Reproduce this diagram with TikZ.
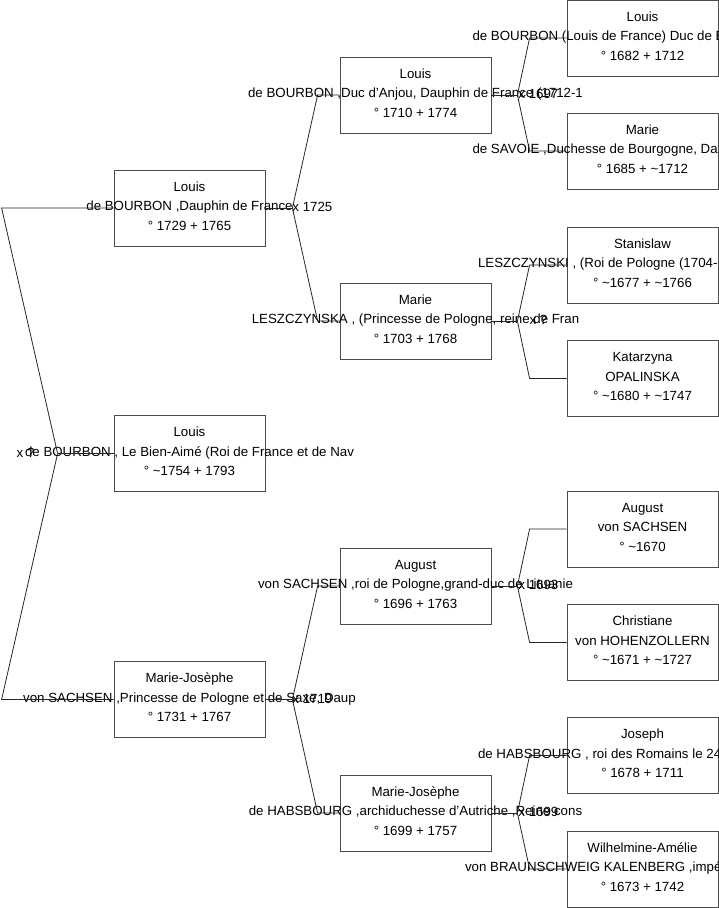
\documentclass[tikz,border=0pt]{standalone}
\usepackage{fontspec}
\setmainfont{Liberation Sans}
\begin{document}
\begin{tikzpicture}[x=1pt, y=-1pt,
  person/.style={draw=black!70, line width=0.8pt, minimum width=151pt, minimum height=76pt,
    inner sep=0pt, align=center, font=\fontsize{13.3}{19.5}\selectfont,
    execute at begin node=\rule{0pt}{11pt}, execute at end node=\rule[-4pt]{0pt}{4pt}},
  link/.style={draw=black!85, line width=0.8pt},
  wedding/.style={inner sep=0pt, font=\fontsize{13.3}{15}\selectfont}]

\useasboundingbox (0,0) rectangle (719,908);
\clip (0,0) rectangle (719,908);

% Generation 1
\node[person] (root) at (189.5,453.5) {Louis\\\makebox[0pt]{de BOURBON , Le Bien-Aimé (Roi de France et de Nav}\\° \textasciitilde1754 + 1793};

% Generation 2
\node[person] (dauphin) at (189.5,208) {Louis\\\makebox[0pt]{de BOURBON ,Dauphin de France}\\° 1729 + 1765};
\node[person] (mjsaxe) at (189.5,699.5) {Marie-Josèphe\\\makebox[0pt]{von SACHSEN ,Princesse de Pologne et de Saxe, Daup}\\° 1731 + 1767};

% Generation 3
\node[person] (louisXV) at (415.5,95) {Louis\\\makebox[0pt]{de BOURBON ,Duc d'Anjou, Dauphin de France (1712-1}\\° 1710 + 1774};
\node[person] (leszczynska) at (415.5,321) {Marie\\\makebox[0pt]{LESZCZYNSKA , (Princesse de Pologne, reine de Fran}\\° 1703 + 1768};
\node[person] (august3) at (415.5,586) {August\\\makebox[0pt]{von SACHSEN ,roi de Pologne,grand-duc de Lituanie}\\° 1696 + 1763};
\node[person] (mjhabsbourg) at (415.5,813) {Marie-Josèphe\\\makebox[0pt]{de HABSBOURG ,archiduchesse d'Autriche ,Reine cons}\\° 1699 + 1757};

% Generation 4
\node[person] (bourgogne) at (642.5,38) {Louis\\\makebox[0pt]{\makebox[340pt][l]{de BOURBON (Louis de France) Duc de B}}\\° 1682 + 1712};
\node[person] (savoie) at (642.5,151) {Marie\\\makebox[0pt]{\makebox[340pt][l]{de SAVOIE ,Duchesse de Bourgogne, Da}}\\° 1685 + \textasciitilde1712};
\node[person] (stanislaw) at (642.5,265) {Stanislaw\\\makebox[0pt]{\makebox[329pt][l]{LESZCZYNSKI , (Roi de Pologne (1704-}}\\° \textasciitilde1677 + \textasciitilde1766};
\node[person] (opalinska) at (642.5,378.5) {Katarzyna\\OPALINSKA\\° \textasciitilde1680 + \textasciitilde1747};
\node[person] (august2) at (642.5,529) {August\\von SACHSEN\\° \textasciitilde1670};
\node[person] (hohenzollern) at (642.5,642.5) {Christiane\\von HOHENZOLLERN\\° \textasciitilde1671 + \textasciitilde1727};
\node[person] (joseph) at (642.5,755.5) {Joseph\\\makebox[0pt]{\makebox[329pt][l]{de HABSBOURG , roi des Romains le 24}}\\° 1678 + 1711};
\node[person] (wilhelmine) at (642.5,869) {Wilhelmine-Amélie\\\makebox[0pt]{\makebox[355pt][l]{von BRAUNSCHWEIG KALENBERG ,impé}}\\° 1673 + 1742};

% Parents of Louis (root)
\coordinate (root-j) at ([xshift=-56pt]root.west);
\draw[link] (root.west) -- (root-j);
\draw[link] (root-j) -- ([xshift=-112pt]dauphin.west) -- (dauphin.west);
\draw[link] (root-j) -- ([xshift=-112pt]mjsaxe.west) -- (mjsaxe.west);
\node[wedding] (root-x) at ([xshift=-32pt,yshift=1pt]root-j) {x ?};

% Parents of the Dauphin
\coordinate (dauphin-j) at ([xshift=27pt]dauphin.east);
\draw[link] (dauphin.east) -- (dauphin-j);
\draw[link] (dauphin-j) -- ([xshift=-22pt]louisXV.west) -- (louisXV.west);
\draw[link] (dauphin-j) -- ([xshift=-22pt]leszczynska.west) -- (leszczynska.west);
\node[wedding] (dauphin-x) at ([xshift=20pt,yshift=1pt]dauphin-j) {x 1725};

% Parents of Marie-Josèphe de Saxe
\coordinate (mjsaxe-j) at ([xshift=27pt]mjsaxe.east);
\draw[link] (mjsaxe.east) -- (mjsaxe-j);
\draw[link] (mjsaxe-j) -- ([xshift=-22pt]august3.west) -- (august3.west);
\draw[link] (mjsaxe-j) -- ([xshift=-22pt]mjhabsbourg.west) -- (mjhabsbourg.west);
\node[wedding] (mjsaxe-x) at ([xshift=20pt,yshift=1pt]mjsaxe-j) {x 1719};

% Parents of Louis XV
\coordinate (louisXV-j) at ([xshift=26pt]louisXV.east);
\draw[link] (louisXV.east) -- (louisXV-j);
\draw[link] (louisXV-j) -- ([xshift=-37pt]bourgogne.west) -- (bourgogne.west);
\draw[link] (louisXV-j) -- ([xshift=-37pt]savoie.west) -- (savoie.west);
\node[wedding] (louisXV-x) at ([xshift=21pt,yshift=1pt]louisXV-j) {x 1697};

% Parents of Marie Leszczynska
\coordinate (leszczynska-j) at ([xshift=26pt]leszczynska.east);
\draw[link] (leszczynska.east) -- (leszczynska-j);
\draw[link] (leszczynska-j) -- ([xshift=-37pt]stanislaw.west) -- (stanislaw.west);
\draw[link] (leszczynska-j) -- ([xshift=-37pt]opalinska.west) -- (opalinska.west);
\node[wedding] (leszczynska-x) at ([xshift=21pt,yshift=1pt]leszczynska-j) {x ?};

% Parents of August
\coordinate (august3-j) at ([xshift=26pt]august3.east);
\draw[link] (august3.east) -- (august3-j);
\draw[link] (august3-j) -- ([xshift=-37pt]august2.west) -- (august2.west);
\draw[link] (august3-j) -- ([xshift=-37pt]hohenzollern.west) -- (hohenzollern.west);
\node[wedding] (august3-x) at ([xshift=21pt,yshift=1pt]august3-j) {x 1693};

% Parents of Marie-Josèphe de Habsbourg
\coordinate (mjhabsbourg-j) at ([xshift=26pt]mjhabsbourg.east);
\draw[link] (mjhabsbourg.east) -- (mjhabsbourg-j);
\draw[link] (mjhabsbourg-j) -- ([xshift=-37pt]joseph.west) -- (joseph.west);
\draw[link] (mjhabsbourg-j) -- ([xshift=-37pt]wilhelmine.west) -- (wilhelmine.west);
\node[wedding] (mjhabsbourg-x) at ([xshift=21pt,yshift=1pt]mjhabsbourg-j) {x 1699};

\end{tikzpicture}
\end{document}
